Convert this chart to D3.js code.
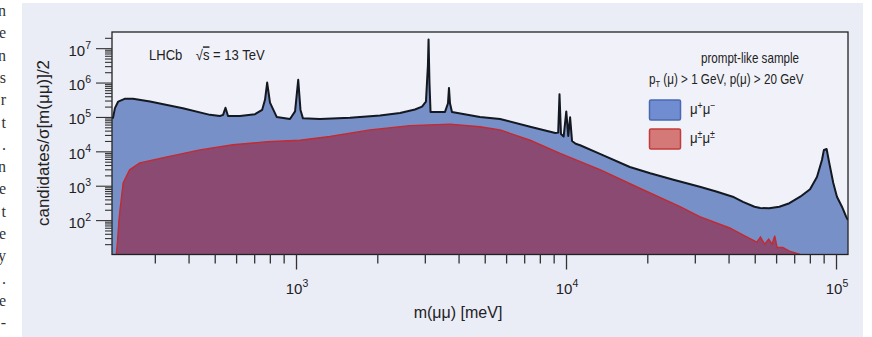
<!DOCTYPE html>
<html>
<head>
<meta charset="utf-8">
<script src="https://cdn.jsdelivr.net/npm/d3@7"></script>
<style>
  body { margin: 0; background: #fff; }
  svg text { font-family: "Liberation Sans", Arial, sans-serif; fill: #222; }
</style>
</head>
<body>
<div id="chart"></div>
<script>
// opposite-sign (mu+ mu-) spectrum, mass in MeV
var massOS = [208, 210, 213.5, 219.5, 233, 249, 288, 381, 480, 523, 537, 548, 560, 620, 705, 749, 768, 782, 801, 848,
  950, 992, 1019, 1039, 1061, 1227, 1585, 2046, 2428, 2758, 2929, 3029, 3080, 3097, 3121, 3150, 3563, 3655, 3686, 3718,
  3781, 4800, 5700, 7365, 9126, 9355, 9460, 9580, 9800, 10023, 10195, 10355, 10530, 10860, 11280, 13420, 17230, 20500,
  25000, 31290, 36000, 41440, 45240, 49900, 52400, 56500, 61700, 67200, 73700, 80140, 85000, 88700, 90200, 92300,
  94200, 97700, 100800, 105200, 109000, 110700];
var countOS = [9.3e4, 9.5e4, 1.8e5, 2.8e5, 3.4e5, 3.4e5, 2.8e5, 1.8e5, 1.15e5, 1.07e5, 1.15e5, 1.85e5, 1.07e5, 1.07e5,
  1.2e5, 1.6e5, 3.2e5, 1.0e6, 2.6e5, 1.0e5, 8.7e4, 1.45e5, 1.2e6, 1.6e5, 9.1e4, 8.7e4, 9.5e4, 1.1e5, 1.3e5, 1.65e5,
  2.0e5, 2.8e5, 3.2e6, 1.8e7, 1.0e6, 1.4e5, 1.4e5, 2.5e5, 7.0e5, 2.5e5, 1.4e5, 1.0e5, 8.7e4, 5.2e4, 3.4e4, 3.5e4,
  4.6e5, 3.2e4, 2.7e4, 1.45e5, 2.8e4, 9.8e4, 2.0e4, 1.66e4, 1.5e4, 8.3e3, 3.5e3, 2.3e3, 1.5e3, 930, 680, 480, 340,
  245, 225, 220, 245, 310, 480, 790, 1.8e3, 5.6e3, 1.1e4, 1.17e4, 5.0e3, 1.2e3, 480, 245, 126, 100];

// same-sign (mu+- mu+-) spectrum
var massSS = [216, 218, 221, 223, 229, 242, 264, 333, 441, 584, 781, 1035, 1336, 1879, 2643, 3716, 4800, 5700, 7365,
  9510, 13420, 18840, 26450, 31290, 40410, 45880, 50900, 52500, 54400, 56300, 58000, 59300, 60500, 63500, 67200, 73700];
var countSS = [10, 21, 100, 200, 1.2e3, 2.9e3, 4.6e3, 6.9e3, 1.1e4, 1.55e4, 1.9e4, 2.1e4, 2.7e4, 4.2e4, 5.6e4, 6.2e4,
  5.2e4, 4.2e4, 2.1e4, 8.7e3, 2.9e3, 830, 245, 126, 59, 35, 23, 32, 20, 28, 20, 35, 16, 16, 12.6, 10];

var xMajor = [1e3, 1e4, 1e5];
var xMajorExp = ["3", "4", "5"];
var yMajor = [1e2, 1e3, 1e4, 1e5, 1e6, 1e7];
var yMajorExp = ["2", "3", "4", "5", "6", "7"];
var legendLabels = [["μ", "+", "μ", "−"], ["μ", "±", "μ", "±"]];
var edgeLetters = ["n", "e", "n", "s", "r", "t", ".", "n", "e", "t", "e", "y", ".", "e", "-"];

var W = 872, H = 337;
var plot = { left: 112, right: 848, top: 32, bottom: 254.5 };

var x = d3.scaleLog()
  .domain([Math.pow(10, 2.3185), Math.pow(10, 5.0444)])
  .range([plot.left, plot.right]);

var y = d3.scaleLog()
  .domain([10, Math.pow(10, 7.47)])
  .range([plot.bottom, plot.top]);

var svg = d3.select("#chart").append("svg")
  .attr("width", W)
  .attr("height", H);

// cut-off letters of the neighbouring text column
svg.selectAll("text.edge")
  .data(edgeLetters)
  .enter().append("text")
  .attr("class", "edge")
  .attr("x", 6)
  .attr("y", function (d, i) { return 16 + i * 22.3; })
  .attr("text-anchor", "end")
  .style("font-family", "'Liberation Serif', serif")
  .style("font-size", "16px")
  .style("fill", "#333")
  .text(function (d) { return d; });

// panel
svg.append("rect")
  .attr("x", 22).attr("y", 3)
  .attr("width", 841).attr("height", H - 3)
  .style("fill", "#eaecf6");

svg.append("rect")
  .attr("x", plot.left).attr("y", plot.top)
  .attr("width", plot.right - plot.left).attr("height", plot.bottom - plot.top)
  .style("fill", "#f1f2f9");

svg.append("clipPath").attr("id", "clip")
  .append("rect")
  .attr("x", plot.left).attr("y", plot.top)
  .attr("width", plot.right - plot.left).attr("height", plot.bottom - plot.top);

var os = massOS.map(function (m, i) { return { m: m, c: countOS[i] }; });
var ss = massSS.map(function (m, i) { return { m: m, c: countSS[i] }; });

var area = d3.area()
  .x(function (d) { return x(d.m); })
  .y0(plot.bottom + 2)
  .y1(function (d) { return y(d.c); });

var line = d3.line()
  .x(function (d) { return x(d.m); })
  .y(function (d) { return y(d.c); });

var g = svg.append("g").attr("clip-path", "url(#clip)");

g.append("path")
  .datum(os)
  .attr("d", area)
  .style("fill", "#7890c8");

g.append("path")
  .datum(ss)
  .attr("d", area)
  .style("fill", "#8a4a72");

g.append("path")
  .datum(ss)
  .attr("d", line)
  .style("fill", "none")
  .style("stroke", "#c42a30")
  .style("stroke-width", 1.4);

g.append("path")
  .datum(os)
  .attr("d", line)
  .style("fill", "none")
  .style("stroke", "#141820")
  .style("stroke-width", 2)
  .style("stroke-linejoin", "round");

// frame
svg.append("rect")
  .attr("x", plot.left).attr("y", plot.top)
  .attr("width", plot.right - plot.left).attr("height", plot.bottom - plot.top)
  .style("fill", "none")
  .style("stroke", "#222")
  .style("stroke-width", 1.3);

// minor tick values
function minors(lo, hi) {
  var out = [];
  for (var e = Math.floor(Math.log10(lo)); e <= Math.ceil(Math.log10(hi)); e++) {
    for (var k = 2; k <= 9; k++) {
      var v = k * Math.pow(10, e);
      if (v > lo && v < hi) out.push(v);
    }
  }
  return out;
}

// x axis
var xAxisG = svg.append("g").attr("transform", "translate(0," + plot.bottom + ")");
xAxisG.append("g")
  .call(d3.axisBottom(x).tickValues(minors(x.domain()[0], x.domain()[1])).tickSize(9).tickFormat(""));
xAxisG.append("g")
  .call(d3.axisBottom(x).tickValues(xMajor).tickSize(15).tickFormat(""));
xAxisG.selectAll(".domain").remove();
xAxisG.selectAll("line").style("stroke", "#333").style("stroke-width", 1.3);

xMajor.forEach(function (v, i) {
  var t = svg.append("text")
    .attr("x", x(v) + 1)
    .attr("y", 294)
    .attr("text-anchor", "middle")
    .style("font-size", "15px");
  t.append("tspan").text("10");
  t.append("tspan").attr("dy", -7).style("font-size", "10.5px").text(xMajorExp[i]);
});

// y axis
var yAxisG = svg.append("g").attr("transform", "translate(" + plot.left + ",0)");
yAxisG.append("g")
  .call(d3.axisLeft(y).tickValues(minors(y.domain()[0], y.domain()[1])).tickSize(7).tickFormat(""));
yAxisG.append("g")
  .call(d3.axisLeft(y).tickValues(yMajor).tickSize(16).tickFormat(""));
yAxisG.selectAll(".domain").remove();
yAxisG.selectAll("line").style("stroke", "#333").style("stroke-width", 1.1);

yMajor.forEach(function (v, i) {
  var t = svg.append("text")
    .attr("x", 91)
    .attr("y", y(v) + 7.5)
    .attr("text-anchor", "end")
    .style("font-size", "15px");
  t.append("tspan").text("10");
  t.append("tspan").attr("dy", -7).style("font-size", "10.5px").text(yMajorExp[i]);
});

// axis titles
svg.append("text")
  .attr("x", 458)
  .attr("y", 318)
  .attr("text-anchor", "middle")
  .style("font-size", "16px")
  .text("m(μμ) [meV]");

svg.append("text")
  .attr("transform", "translate(49,143) rotate(-90)")
  .attr("text-anchor", "middle")
  .style("font-size", "17px")
  .text("candidates/σ[m(μμ)]/2");

// annotations, squeezed sideways to look like the condensed face
var lhcb = svg.append("text")
  .attr("transform", "translate(149,60) scale(0.9,1)")
  .style("font-size", "14.5px");
lhcb.append("tspan").text("LHCb");
lhcb.append("tspan").attr("x", 52).text("√");
lhcb.append("tspan").style("text-decoration", "overline").text("s");
lhcb.append("tspan").text(" = 13 TeV");

svg.append("text")
  .attr("transform", "translate(750,63) scale(0.83,1)")
  .attr("text-anchor", "middle")
  .style("font-size", "14px")
  .text("prompt-like sample");

var cut = svg.append("text")
  .attr("transform", "translate(649,84) scale(0.835,1)")
  .style("font-size", "14px");
cut.append("tspan").text("p");
cut.append("tspan").attr("dy", 3).style("font-size", "9px").text("T");
cut.append("tspan").attr("dy", -3).text(" (μ) > 1 GeV, p(μ) > 20 GeV");

// legend
var legendFill = ["#6f8dd0", "#d47878"];
var legendStroke = ["#4a68b0", "#c23a3a"];
legendLabels.forEach(function (lab, i) {
  var ly = 100 + i * 29;
  svg.append("rect")
    .attr("x", 649.5).attr("y", ly)
    .attr("width", 31).attr("height", 20)
    .attr("rx", 1.5)
    .style("fill", legendFill[i])
    .style("stroke", legendStroke[i])
    .style("stroke-width", 1.5);
  var t = svg.append("text")
    .attr("transform", "translate(690," + (ly + 14) + ") scale(0.88,1)")
    .style("font-size", "15px");
  t.append("tspan").text(lab[0]);
  t.append("tspan").attr("dy", -5).style("font-size", "10px").text(lab[1]);
  t.append("tspan").attr("dy", 5).text(lab[2]);
  t.append("tspan").attr("dy", -5).style("font-size", "10px").text(lab[3]);
});
</script>
</body>
</html>
